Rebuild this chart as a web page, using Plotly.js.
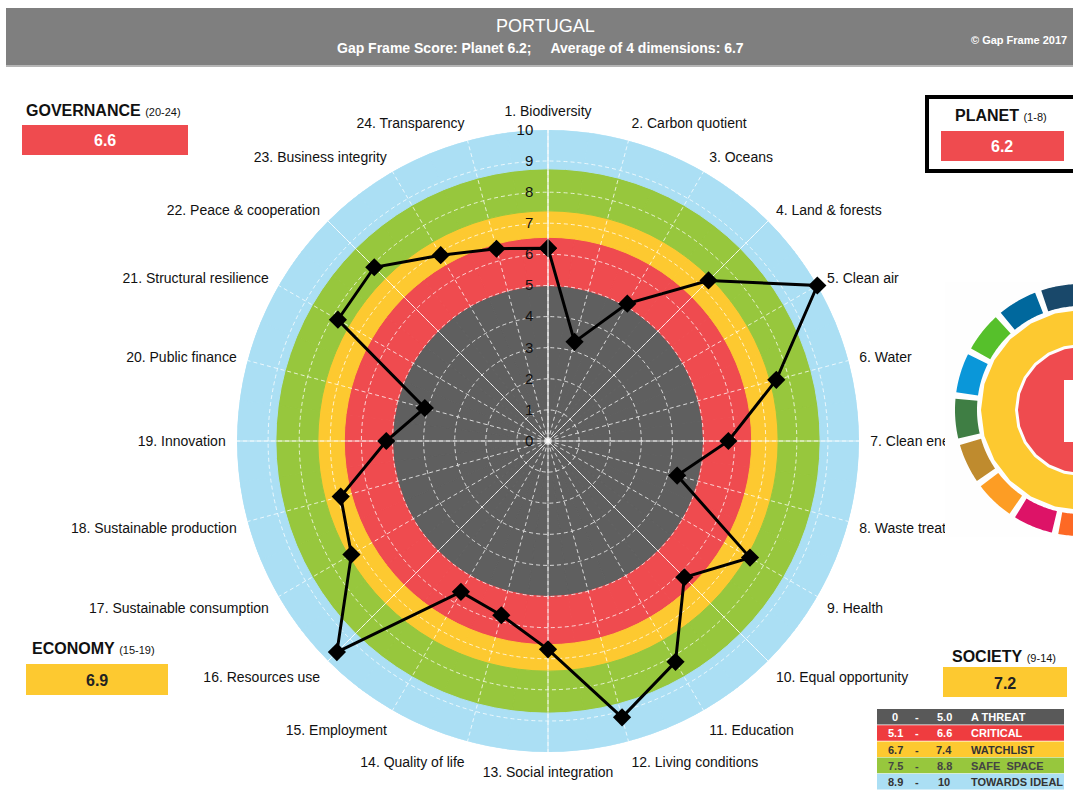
<!DOCTYPE html>
<html><head><meta charset="utf-8">
<script src="https://cdn.plot.ly/plotly-3.0.1.min.js"></script>
<style>html,body{margin:0;padding:0;background:#fff;} #chart{width:1073px;height:792px;}</style>
</head><body><div id="chart"></div>
<script>
// ---------- data ----------
const categories = [
  '1. Biodiversity','2. Carbon quotient','3. Oceans','4. Land & forests','5. Clean air','6. Water',
  '7. Clean energy','8. Waste treatment','9. Health','10. Equal opportunity','11. Education',
  '12. Living conditions','13. Social integration','14. Quality of life','15. Employment',
  '16. Resources use','17. Sustainable consumption','18. Sustainable production','19. Innovation',
  '20. Public finance','21. Structural resilience','22. Peace & cooperation','23. Business integrity',
  '24. Transparency'];
const scores = [6.2,3.3,5.1,7.3,10.0,7.6,5.8,4.3,7.5,6.2,8.2,9.2,6.7,5.8,5.6,9.6,7.3,6.9,5.2,4.1,7.8,7.9,6.9,6.4];
const bandEdges = [0, 5.0, 6.55, 7.4, 8.75, 10];
const bandColors = ['#5f5f5f','#ef4b4f','#fdc930','#97c73d','#abdff4'];
const radialTicks = [0,1,2,3,4,5,6,7,8,9,10];

const dimNames = ['GOVERNANCE','PLANET','ECONOMY','SOCIETY'];
const dimRanges = ['(20-24)','(1-8)','(15-19)','(9-14)'];
const dimScores = ['6.6','6.2','6.9','7.2'];

const legendLow = ['0','5.1','6.7','7.5','8.9'];
const legendHigh = ['5.0','6.6','7.4','8.8','10'];
const legendLabels = ['A THREAT','CRITICAL','WATCHLIST','SAFE  SPACE','TOWARDS IDEAL'];

const titleText = 'PORTUGAL';
const subtitleText = 'Gap Frame Score: Planet 6.2;\u00a0\u00a0\u00a0\u00a0 Average of 4 dimensions: 6.7';
const copyrightText = '\u00a9 Gap Frame 2017';

const sdgColors = ['#e5243b','#dda63a','#4c9f38','#c5192d','#ff3a21','#26bde2','#fcc30b','#a21942',
  '#fd6925','#dd1367','#fd9d24','#bf8b2e','#3f7e44','#0a97d9','#56c02b','#00689d','#19486a'];

// ---------- helpers ----------
const W = 1073, H = 792;
const FONT = 'Liberation Sans, Arial, sans-serif';
const px = x => x / W;
const py = y => 1 - y / H;
const dom = {x: [px(237), px(859)], y: [py(752), py(130)]};

function rect(x0, y0, x1, y1, fill, line) {
  return {type: 'rect', xref: 'paper', yref: 'paper', x0: px(x0), x1: px(x1), y0: py(y1), y1: py(y0),
    fillcolor: fill, line: line || {width: 0}, layer: 'above'};
}
function annulus(cx, cy, r0, r1, a0, a1, fill) {
  const pts = [];
  const n = 24;
  for (let i = 0; i <= n; i++) { const a = (a0 + (a1 - a0) * i / n) * Math.PI / 180; pts.push([cx + r1 * Math.cos(a), cy - r1 * Math.sin(a)]); }
  for (let i = n; i >= 0; i--) { const a = (a0 + (a1 - a0) * i / n) * Math.PI / 180; pts.push([cx + r0 * Math.cos(a), cy - r0 * Math.sin(a)]); }
  const d = 'M' + pts.map(p => px(p[0]).toFixed(5) + ',' + py(p[1]).toFixed(5)).join('L') + 'Z';
  return {type: 'path', xref: 'paper', yref: 'paper', path: d, fillcolor: fill, line: {width: 0}, layer: 'above'};
}
function ann(x, y, text, size, color, opts) {
  return Object.assign({xref: 'paper', yref: 'paper', x: px(x), y: py(y), text: text, showarrow: false,
    xanchor: 'center', yanchor: 'middle', font: {family: FONT, size: size, color: color}}, opts || {});
}

// ---------- traces ----------
const traces = [];
for (let i = 0; i < bandColors.length; i++) {
  traces.push({
    type: 'barpolar', subplot: 'polar', theta: categories,
    r: categories.map(() => bandEdges[i + 1] - bandEdges[i]),
    base: categories.map(() => bandEdges[i]),
    marker: {color: bandColors[i], line: {color: bandColors[i], width: 1}},
    hoverinfo: 'skip', showlegend: false
  });
}
// carrier for the solid 45-degree spokes
traces.push({type: 'scatterpolar', subplot: 'polar2', theta: categories, r: scores, mode: 'lines',
  line: {width: 0, color: 'rgba(0,0,0,0)'}, hoverinfo: 'skip', showlegend: false});
// the score line
traces.push({type: 'scatterpolar', subplot: 'polar3',
  theta: categories.concat([categories[0]]), r: scores.concat([scores[0]]),
  mode: 'lines+markers', line: {color: '#000', width: 3},
  marker: {symbol: 'diamond', size: 14, color: '#000'}, hoverinfo: 'skip', showlegend: false});

const angBase = {type: 'category', categoryarray: categories, rotation: 90, direction: 'clockwise'};
const hidden = {showgrid: false, showline: false, showticklabels: false, ticks: ''};

const layout = {
  width: W, height: H, margin: {l: 0, r: 0, t: 0, b: 0},
  paper_bgcolor: '#fff', showlegend: false, hovermode: false,
  polar: {domain: dom, bgcolor: 'rgba(0,0,0,0)', bargap: 0, barmode: 'overlay',
    angularaxis: Object.assign({}, angBase, hidden),
    radialaxis: Object.assign({range: [0, 10]}, hidden)},
  polar2: {domain: dom, bgcolor: 'rgba(0,0,0,0)',
    angularaxis: Object.assign({}, angBase, hidden, {showgrid: true, tickmode: 'array',
      tickvals: categories.filter((c, i) => i % 3 === 0), gridcolor: 'rgba(255,255,255,0.7)', gridwidth: 1}),
    radialaxis: Object.assign({range: [0, 10]}, hidden)},
  polar3: {domain: dom, bgcolor: 'rgba(0,0,0,0)',
    angularaxis: Object.assign({}, angBase, {showgrid: true, gridcolor: 'rgba(255,255,255,0.75)', gridwidth: 1,
      griddash: '4px,3px', showline: false, ticks: 'outside', ticklen: 8, tickcolor: 'rgba(0,0,0,0)',
      tickfont: {family: FONT, size: 14, color: '#111'}}),
    radialaxis: {range: [0, 10], tickmode: 'array', tickvals: radialTicks, showgrid: true,
      gridcolor: 'rgba(255,255,255,0.75)', gridwidth: 1, griddash: '4px,3px',
      showline: true, linecolor: 'rgba(255,255,255,0.8)', linewidth: 1, angle: 90, side: 'counterclockwise',
      ticks: 'outside', ticklen: 9, tickcolor: 'rgba(0,0,0,0)', tickangle: 90,
      tickfont: {family: FONT, size: 15, color: '#111'}}},
  shapes: [], annotations: []
};

// header
layout.shapes.push(rect(6, 8, 1073, 66, '#7f7f7f'));
layout.shapes.push(rect(6, 65, 1073, 67, '#b5b5b5'));
layout.annotations.push(ann(545, 26, titleText, 18, '#fff'));
layout.annotations.push(ann(540, 48, '<b>' + subtitleText + '</b>', 14, '#fff'));
layout.annotations.push(ann(1019, 40, '<b>' + copyrightText + '</b>', 11, '#fff'));

// dimension boxes
const dimTitle = i => '<b>' + dimNames[i] + '</b> <span style="font-size:11px">' + dimRanges[i] + '</span>';
// governance
layout.annotations.push(ann(24, 111, dimTitle(0), 16, '#111', {xanchor: 'left'}));
layout.shapes.push(rect(22, 125, 188, 155, '#ef4b4f'));
layout.annotations.push(ann(105, 140, '<b>' + dimScores[0] + '</b>', 16, '#fff'));
// planet
layout.shapes.push({type: 'rect', xref: 'paper', yref: 'paper', x0: px(927), x1: px(1090), y0: py(171), y1: py(97),
  fillcolor: 'rgba(0,0,0,0)', line: {color: '#000', width: 4}, layer: 'above'});
layout.annotations.push(ann(1001, 116, dimTitle(1), 16, '#111'));
layout.shapes.push(rect(941, 131, 1064, 161, '#ef4b4f'));
layout.annotations.push(ann(1002, 146, '<b>' + dimScores[1] + '</b>', 16, '#fff'));
// economy
layout.annotations.push(ann(30, 648, dimTitle(2), 16, '#111', {xanchor: 'left'}));
layout.shapes.push(rect(26, 664, 168, 695, '#fdc930'));
layout.annotations.push(ann(97, 680, '<b>' + dimScores[2] + '</b>', 16, '#222'));
// society
layout.annotations.push(ann(950, 656, dimTitle(3), 16, '#111', {xanchor: 'left'}));
layout.shapes.push(rect(943, 667, 1067, 697, '#fdc930'));
layout.annotations.push(ann(1005, 683, '<b>' + dimScores[3] + '</b>', 16, '#222'));

// legend table
const rowColors = ['#595959','#ef3c3f','#fdc930','#97c73d','#abdff4'];
const rowText = ['#fff','#fff','#333','#444','#333'];
for (let i = 0; i < 5; i++) {
  const y0 = 709 + i * 16.2, y1 = y0 + 16.2, yc = (y0 + y1) / 2;
  layout.shapes.push(rect(877, y0, 1064, y1 - 0.6, rowColors[i]));
  layout.annotations.push(ann(895, yc, '<b>' + legendLow[i] + '</b>', 11, rowText[i]));
  layout.annotations.push(ann(917, yc, '<b>-</b>', 11, rowText[i]));
  layout.annotations.push(ann(944, yc, '<b>' + legendHigh[i] + '</b>', 11, rowText[i]));
  layout.annotations.push(ann(969, yc, '<b>' + legendLabels[i] + '</b>', 11, rowText[i], {xanchor: 'left'}));
}

// Gap Frame logo (partially visible on the right)
layout.shapes.push(rect(945, 282, 1073, 537, '#fefefe'));
const LX = 1081, LY = 410;
for (let k = 0; k < 17; k++) {
  const sdg = k + 1;
  const c = 184 + (13 - sdg) * (360 / 17);
  layout.shapes.push(annulus(LX, LY, 104, 126, c - 9.1, c + 9.1, sdgColors[k]));
}
layout.shapes.push(annulus(LX, LY, 66, 100, 0, 360, '#fdc930'));
layout.shapes.push(annulus(LX, LY, 0, 63, 0, 360, '#ef4b4f'));
layout.shapes.push(rect(1064, 380, 1080, 442, '#fff'));

Plotly.newPlot('chart', traces, layout, {displayModeBar: false, staticPlot: true});
</script>
</body></html>
